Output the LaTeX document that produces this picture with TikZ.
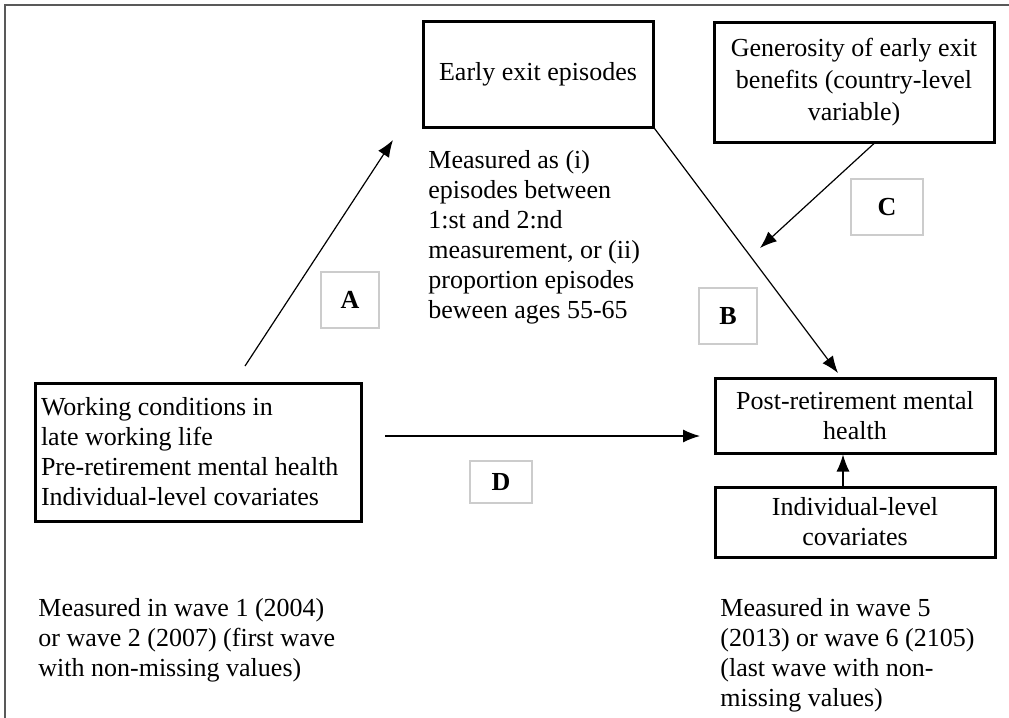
\documentclass[tikz,border=0pt]{standalone}
\usepackage{fontspec}
\setmainfont{Liberation Serif}
\usetikzlibrary{positioning,arrows.meta}

\begin{document}
\begin{tikzpicture}[x=0.5pt,y=-0.5pt,
                    every node/.style={font=\fontsize{13}{15}\selectfont},
                    box/.style={draw,line width=1.5pt,align=center,
                                minimum width=140pt,inner sep=3pt},
                    tag/.style={draw=gray!40,line width=1pt,
                                font=\fontsize{13}{15}\selectfont\bfseries,
                                minimum width=29pt,minimum height=28pt},
                    note/.style={anchor=north west,align=left,inner sep=0pt},
                    arr/.style={-{Latex[length=8.5pt,width=6.5pt]},line width=0.6pt}]
  \useasboundingbox (0,0) rectangle (1009,718);
  \draw[gray!70!black,line width=1pt] (5,718) -- (5,5) -- (1009,5);

  \node[box,minimum width=115pt,minimum height=53pt] (exit) at (538,74)
       {Early exit episodes};
  \node[box,minimum height=60pt,font=\fontsize{13}{16}\selectfont] (generosity) at (854,82)
       {Generosity of early exit\\benefits (country-level\\variable)};
  \node[box,minimum width=163pt,minimum height=69pt,align=flush left,
        text width=157pt] (work) at (198,452)
       {Working conditions in\\late working life\\Pre-retirement mental health\\Individual-level covariates};
  \node[box,minimum height=37.5pt] (post) at (855,415.5)
       {Post-retirement mental\\health};
  \node[box,minimum height=35pt] (indiv) at (855,522)
       {Individual-level\\covariates};

  \node[note] (measured) at (428,150)
       {Measured as (i)\\episodes between\\1:st and 2:nd\\measurement, or (ii)\\proportion episodes\\beween ages 55-65};
  \node[note] (wave1) at (38,598)
       {Measured in wave 1 (2004)\\or wave 2 (2007) (first wave\\with non-missing values)};
  \node[note] (wave5) at (720,598)
       {Measured in wave 5\\(2013) or wave 6 (2105)\\(last wave with non-\\missing values)};

  \node[tag] (tagA) at (350,300) {A};
  \node[tag] (tagB) at (728,316) {B};
  \node[tag,minimum width=36pt] (tagC) at (887,207) {C};
  \node[tag,minimum width=31pt,minimum height=21pt] (tagD) at (501,482) {D};

  % free arrow ends stop short of the boxes
  \coordinate (a-tail) at (245,366);
  \coordinate (a-head) at (393,140);
  \coordinate (b-head) at (838,373);
  \coordinate (c-head) at (760,248);
  \coordinate (d-tail) at (385,436);
  \coordinate (d-head) at (700,436);

  \draw[arr] (a-tail) -- (a-head);
  \draw[arr] (exit.south east) -- (b-head);
  \draw[arr] ([xshift=10pt]generosity.south) -- (c-head);
  \draw[arr] (d-tail) -- (d-head);
  \draw[arr] ([xshift=-6pt]indiv.north) -- ([xshift=-6pt]post.south);
\end{tikzpicture}
\end{document}
